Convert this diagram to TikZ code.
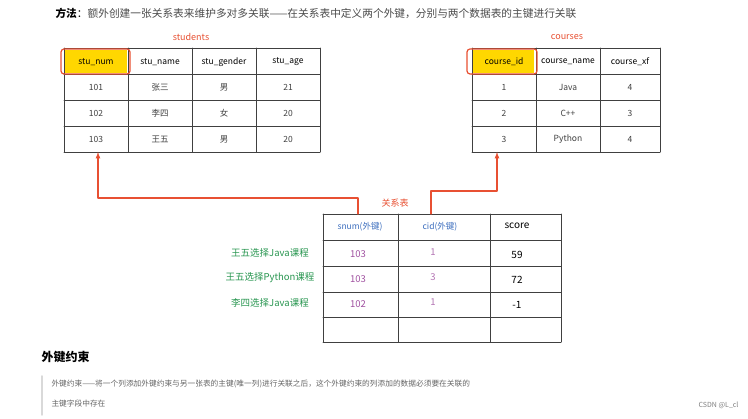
\documentclass[tikz,border=0pt]{standalone}
\usepackage{fontspec}
\setmainfont{Noto Sans CJK SC}
\usetikzlibrary{positioning,calc}
\definecolor{keyred}{RGB}{232,80,50}
\definecolor{keygreen}{RGB}{40,150,80}
\definecolor{keyblue}{RGB}{60,110,190}
\definecolor{keypurple}{RGB}{160,80,160}
\definecolor{hiyellow}{RGB}{255,215,0}
\begin{document}
\begin{tikzpicture}[x=1pt,y=-1pt, font=\fontsize{8.5}{10}\selectfont, line cap=round, line join=round]
	\useasboundingbox (0,0) rectangle (748,419);
	\fill[white] (0,0) rectangle (748,419);
	\tikzset{grid/.style={draw=black!75, line width=0.6pt},
		cell/.style={inner sep=0pt, anchor=center},
		title/.style={keyred, font=\fontsize{9}{10}\selectfont},
		link/.style={draw=keyred, line width=1.2pt, -latex},
		keybox/.style={draw=keyred, line width=1.2pt, rounded corners=3pt}}
	% ===== 标题 =====
	\node[anchor=west, font=\fontsize{10.7}{12}\selectfont] (intro) at (52,13) {\textbf{方法}：{\color{black!70}额外创建一张关系表来维护多对多关联——在关系表中定义两个外键，分别与两个数据表的主键进行关联}};
	% ===== students =====
	\node[title] (stitle) at (191,37) {students};
	\fill[hiyellow] (65,50) rectangle (127,73);
	\foreach \x in {64,128,192,256,320} \draw[grid] (\x,48) -- (\x,152);
	\foreach \y in {48,74,100,126,152} \draw[grid] (64,\y) -- (320,\y);
	\draw[keybox] (61,49) rectangle (130,74);
	\foreach \t [count=\i] in {stu\_num,stu\_name,stu\_gender,stu\_age}
		\node[cell] (s-0-\i) at (32+64*\i,62) {\t};
	\foreach \a/\b/\c/\d [count=\r] in {101/张三/男/21,102/李四/女/20,103/王五/男/20}{
		\node[cell, black!75] (s-\r-1) at (96,87+26*\r-26) {\a};
		\node[cell, black!75] (s-\r-2) at (160,87+26*\r-26) {\b};
		\node[cell, black!75] (s-\r-3) at (224,87+26*\r-26) {\c};
		\node[cell, black!75] (s-\r-4) at (288,87+26*\r-26) {\d};
	}
	% ===== courses =====
	\node[title] (ctitle) at (567,37) {courses};
	\fill[hiyellow] (473,50) rectangle (534,73);
	\foreach \x in {472,536,600,660} \draw[grid] (\x,48) -- (\x,152);
	\foreach \y in {48,74,100,126,152} \draw[grid] (472,\y) -- (660,\y);
	\draw[keybox] (467,49) rectangle (537,74);
	\node[cell] (c-0-1) at (504,62) {course\_id};
	\node[cell] (c-0-2) at (568,62) {course\_name};
	\node[cell] (c-0-3) at (630,62) {course\_xf};
	\foreach \a/\b/\c [count=\r] in {1/Java/4,2/C++/3,3/Python/4}{
		\node[cell, black!75] (c-\r-1) at (504,87+26*\r-26) {\a};
		\node[cell, black!75] (c-\r-2) at (568,87+26*\r-26) {\b};
		\node[cell, black!75] (c-\r-3) at (630,87+26*\r-26) {\c};
	}
	% ===== 关系表 =====
	\node[title] (rtitle) at (395,203) {关系表};
	\foreach \x in {323,398,490,561} \draw[grid] (\x,214) -- (\x,342);
	\foreach \y in {214,240,266,292,317,342} \draw[grid] (323,\y) -- (561,\y);
	\node[cell, keyblue] (r-0-1) at (360,227) {snum(外键)};
	\node[cell, keyblue] (r-0-2) at (440,227) {cid(外键)};
	\node[cell, font=\fontsize{10}{11}\selectfont] (r-0-3) at (517,226) {score};
	\foreach \a/\b/\c/\lbl [count=\r] in {103/1/59/王五选择Java课程,103/3/72/王五选择Python课程,102/1/-1/李四选择Java课程}{
		\node[cell, keypurple, font=\fontsize{9.5}{11}\selectfont] (r-\r-1) at (358,229+25*\r) {\a};
		\node[cell, keypurple!80, font=\fontsize{9.5}{11}\selectfont] (r-\r-2) at (433,227+25*\r) {\b};
		\node[cell, font=\fontsize{10}{11}\selectfont] (r-\r-3) at (517,230+25*\r) {\c};
		\node[cell, keygreen, font=\fontsize{9.5}{11}\selectfont] (g-\r) at (270,228+25*\r) {\lbl};
	}
	% ===== 外键连线 =====
	\coordinate (sk) at (358,214);
	\coordinate (ck) at (431,214);
	\draw[link] (sk) |- (98,198) -- (98,152);
	\draw[link] (ck) |- (497,191) -- (497,152);
	% ===== 外键约束 =====
	\node[anchor=west, font=\fontsize{12}{14}\selectfont\bfseries] (fk) at (38,357) {外键约束};
	\draw[black!15, line width=1.5pt] (42,376) -- (42,415);
	\node[anchor=west, black!60, font=\fontsize{7.7}{9}\selectfont] (fk1) at (48,384) {外键约束——将一个列添加外键约束与另一张表的主键(唯一列)进行关联之后，这个外键约束的列添加的数据必须要在关联的};
	\node[anchor=west, black!60, font=\fontsize{7.7}{9}\selectfont] (fk2) at (48,404) {主键字段中存在};
	\node[anchor=east, black!50, font=\fontsize{7}{8}\selectfont] (csdn) at (742,405) {CSDN @L\_cl};
\end{tikzpicture}
\end{document}
